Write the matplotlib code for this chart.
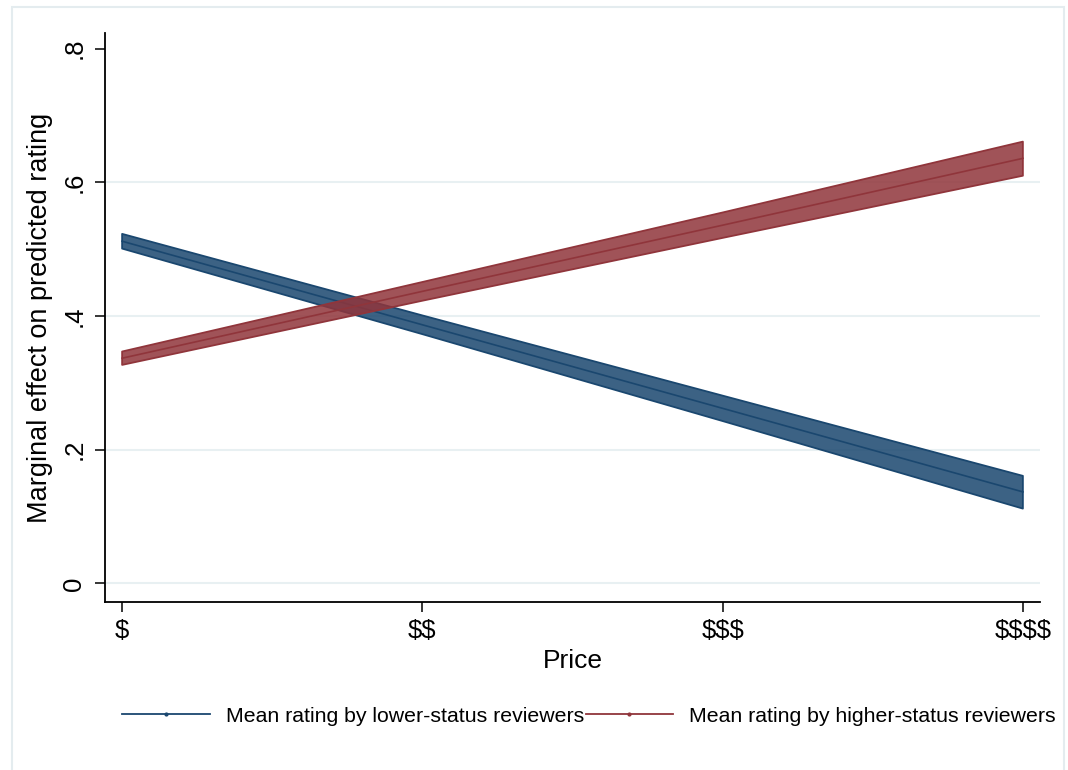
import matplotlib
matplotlib.use("Agg")
import matplotlib.pyplot as plt
from matplotlib.lines import Line2D
from matplotlib.patches import Rectangle

plt.rcParams['font.family'] = ['Liberation Sans', 'DejaVu Sans']
plt.rcParams['text.parse_math'] = False

# Price levels and tick labels
price_levels = [1, 2, 3, 4]
price_labels = ["$", "$$", "$$$", "$$$$"]

# Predicted margins with 95% confidence bounds
lower_mean = [0.512, 0.387, 0.262, 0.137]
lower_lo = [0.501, 0.373, 0.243, 0.112]
lower_hi = [0.523, 0.401, 0.281, 0.161]

higher_mean = [0.337, 0.437, 0.536, 0.636]
higher_lo = [0.327, 0.423, 0.517, 0.610]
higher_hi = [0.347, 0.451, 0.555, 0.661]

y_ticks = [0, 0.2, 0.4, 0.6, 0.8]
y_tick_labels = ["0", ".2", ".4", ".6", ".8"]

series_names = ["Mean rating by lower-status reviewers",
                "Mean rating by higher-status reviewers"]

NAVY = "#1a476f"
MAROON = "#90353b"
GRID = "#e8f0f2"

W, H = 1068, 770
fig = plt.figure(figsize=(W / 100, H / 100), dpi=100)
fig.patch.set_facecolor("white")

# outer graph-region border
fig.add_artist(Rectangle((12 / W, -0.02), (1064 - 12) / W, 1 - 7 / H + 0.02,
                         transform=fig.transFigure, fill=False,
                         edgecolor="#e4ecef", lw=1.5))

ax = fig.add_axes([105 / W, 1 - 602 / H, (1040 - 105) / W, (602 - 33) / H])
ax.set_xlim(0.943, 4.057)
ax.set_ylim(-0.0277, 0.8235)

for v in y_ticks[:-1]:
    ax.axhline(v, color=GRID, lw=1.5, zorder=0)

ax.fill_between(price_levels, lower_lo, lower_hi, facecolor=NAVY, alpha=0.85,
                edgecolor="none", zorder=2)
ax.fill_between(price_levels, lower_lo, lower_hi, facecolor="none",
                edgecolor=NAVY, lw=1.3, zorder=2)
ax.plot(price_levels, lower_mean, color=NAVY, lw=1.2, zorder=3)

ax.fill_between(price_levels, higher_lo, higher_hi, facecolor=MAROON, alpha=0.85,
                edgecolor="none", zorder=4)
ax.fill_between(price_levels, higher_lo, higher_hi, facecolor="none",
                edgecolor=MAROON, lw=1.3, zorder=4)
ax.plot(price_levels, higher_mean, color=MAROON, lw=1.2, zorder=5)

for s in ["top", "right"]:
    ax.spines[s].set_visible(False)
for s in ["left", "bottom"]:
    ax.spines[s].set_linewidth(1.3)

ax.set_xticks(price_levels)
ax.set_xticklabels(price_labels, fontsize=18.5)
ax.set_yticks(y_ticks)
ax.set_yticklabels(y_tick_labels, fontsize=18.5, rotation=90, va="center")
ax.tick_params(axis="both", length=7.5, width=1.1, color="black")
ax.tick_params(axis="x", pad=5)
ax.tick_params(axis="y", pad=6)

ax.set_xlabel("Price", fontsize=19)
ax.xaxis.set_label_coords(0.5, -(649 - 602) / 569)
ax.set_ylabel("Marginal effect on predicted rating", fontsize=19.5)
ax.yaxis.set_label_coords((53 - 105) / 935, 0.5)

handles = [Line2D([], [], color=NAVY, lw=1.3, marker="o", markersize=2),
           Line2D([], [], color=MAROON, lw=1.3, marker="o", markersize=2)]
fig.legend(handles, series_names, loc="center", bbox_to_anchor=(589 / W, 1 - 716 / H),
           ncol=2, frameon=False, fontsize=15.3, handlelength=4.1,
           handletextpad=0.75, columnspacing=0.1, borderpad=0)

fig.savefig("out.png", dpi=100, facecolor="white")
